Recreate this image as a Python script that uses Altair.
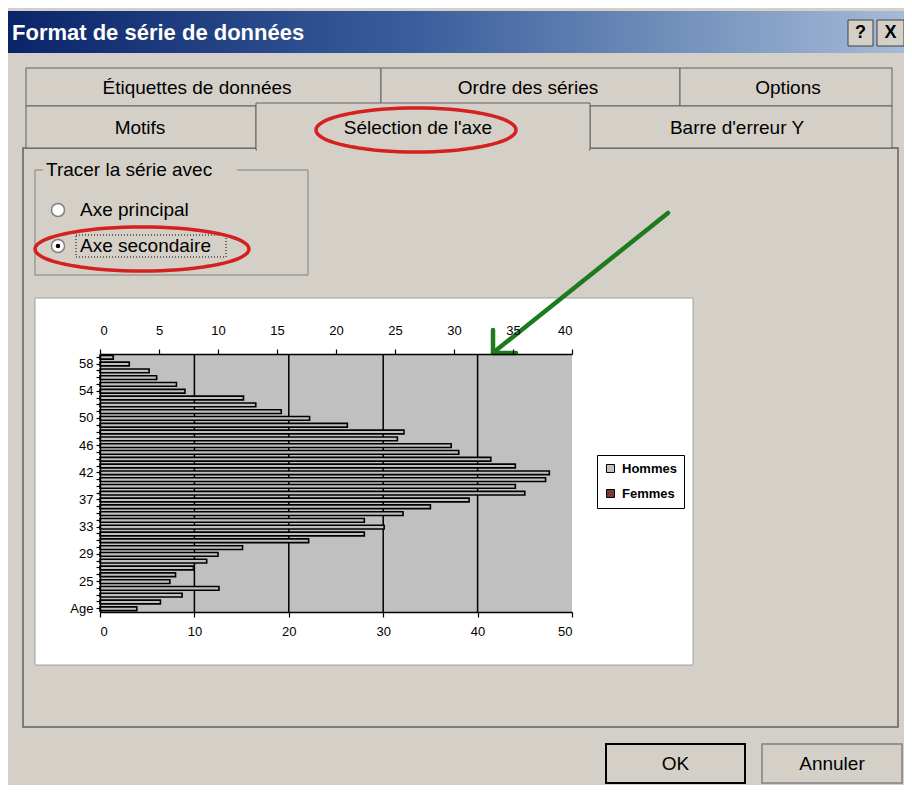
import json
import numpy as np
import pandas as pd
import altair as alt

# ---------------- chart data ----------------
ages = ["Age", "22", "23", "24", "25", "26", "27", "28", "29", "30", "31", "32",
        "33", "34", "35", "36", "37", "38", "40", "41", "42", "43", "44", "45",
        "46", "47", "48", "49", "50", "51", "52", "53", "54", "55", "56", "57",
        "58", "59"]
hommes = [3.9, 6.4, 8.7, 12.6, 7.4, 8.0, 9.9, 11.3, 12.5, 15.1, 22.1, 28.0,
          30.1, 28.0, 32.1, 35.0, 39.1, 45.0, 44.0, 47.2, 47.6, 44.0, 41.4, 38.0,
          37.2, 31.5, 32.2, 26.2, 22.2, 19.2, 16.5, 15.2, 9.0, 8.1, 6.0, 5.2,
          3.1, 1.4]
series = ["Hommes", "Femmes"]
shown_age_labels = ["Age", "25", "29", "33", "37", "42", "46", "50", "54", "58"]
bottom_ticks = [0, 10, 20, 30, 40, 50]
top_ticks = [0, 5, 10, 15, 20, 25, 30, 35, 40]
grid_values = [10, 20, 30, 40]

# ---------------- layout ----------------
FONT = "Liberation Sans"
OX, OY = 100, 354          # page position of the plot area origin
W, H = 472, 258            # plot area size
GRAY = "#D4D0C8"
one = alt.Data(values=[{"k": 0}])


def rect(x1, y1, x2, y2, **kw):
    return alt.Chart(one).mark_rect(**kw).encode(
        x=alt.value(x1 - OX), x2=alt.value(x2 - OX),
        y=alt.value(y1 - OY), y2=alt.value(y2 - OY))


def label(x, y, s, **kw):
    style = dict(font=FONT, fontSize=19, color="black", align="left", baseline="middle")
    style.update(kw)
    return alt.Chart(one).mark_text(text=s, **style).encode(
        x=alt.value(x - OX), y=alt.value(y - OY))


def seg(x1, y1, x2, y2, **kw):
    return alt.Chart(one).mark_rule(**kw).encode(
        x=alt.value(x1 - OX), y=alt.value(y1 - OY),
        x2=alt.value(x2 - OX), y2=alt.value(y2 - OY))


def ellipse(cx, cy, rx, ry, **kw):
    t = np.linspace(0, 2 * np.pi, 73)
    r = ry / rx
    path = "M" + " L".join(f"{np.cos(a):.4f},{r * np.sin(a):.4f}" for a in t) + " Z"
    return alt.Chart(one).mark_point(shape=path, size=(2 * rx) ** 2, filled=False,
                                     opacity=1, **kw).encode(
        x=alt.value(cx - OX), y=alt.value(cy - OY))


def dot(cx, cy, size, **kw):
    return alt.Chart(one).mark_point(shape="circle", size=size, opacity=1, **kw).encode(
        x=alt.value(cx - OX), y=alt.value(cy - OY))


title_grad = alt.LinearGradient(
    gradient="linear", x1=0, x2=1, y1=0, y2=0,
    stops=[alt.GradientStop(color="#0A246A", offset=0),
           alt.GradientStop(color="#3A5E9C", offset=0.45),
           alt.GradientStop(color="#A6BCD8", offset=1)])

decor = [
    # title bar
    rect(8, 11, 912, 53, color=title_grad),
    label(12, 33, "Format de série de données", color="white", fontWeight="bold", fontSize=22),
    rect(848, 20, 873, 46, fill=GRAY, stroke="#404040", strokeWidth=1),
    label(860.5, 33, "?", fontWeight="bold", align="center", fontSize=18),
    rect(877, 20, 904, 46, fill=GRAY, stroke="#404040", strokeWidth=1),
    label(890.5, 33, "X", fontWeight="bold", align="center", fontSize=18),
    # tab panel
    rect(23, 148, 898, 727, fill=GRAY, stroke="#606060", strokeWidth=1.5),
    # tabs row 1
    rect(26, 68, 381, 106, fill=GRAY, stroke="#606060", strokeWidth=1),
    rect(381, 68, 680, 106, fill=GRAY, stroke="#606060", strokeWidth=1),
    rect(680, 68, 892, 106, fill=GRAY, stroke="#606060", strokeWidth=1),
    label(197, 88, "Étiquettes de données", align="center"),
    label(528, 88, "Ordre des séries", align="center"),
    label(788, 88, "Options", align="center"),
    # tabs row 2
    rect(26, 106, 256, 148, fill=GRAY, stroke="#606060", strokeWidth=1),
    rect(590, 106, 892, 148, fill=GRAY, stroke="#606060", strokeWidth=1),
    rect(256, 103, 590, 150, fill=GRAY, stroke="#606060", strokeWidth=1),
    rect(257, 146, 589, 151, fill=GRAY),
    label(140, 128, "Motifs", align="center"),
    label(418, 128, "Sélection de l'axe", align="center"),
    label(737, 128, "Barre d'erreur Y", align="center"),
    # group box
    rect(35, 170, 308, 275, fill=GRAY, stroke="#808080", strokeWidth=1),
    rect(43, 160, 237, 180, fill=GRAY),
    label(46, 170, "Tracer la série avec"),
    dot(58, 210, 170, fill="white", stroke="#808080", strokeWidth=1.5, filled=True),
    label(80, 210, "Axe principal"),
    dot(58, 246, 170, fill="white", stroke="#808080", strokeWidth=1.5, filled=True),
    dot(58, 246, 20, fill="black", filled=True),
    rect(76, 235, 226, 257, fill=GRAY, stroke="black", strokeWidth=1, strokeDash=[1, 2]),
    label(80, 246, "Axe secondaire"),
    # buttons
    rect(606, 744, 745, 783, fill=GRAY, stroke="black", strokeWidth=2),
    label(675.5, 764, "OK", align="center"),
    rect(762, 744, 902, 783, fill=GRAY, stroke="#808080", strokeWidth=1.5),
    label(832, 764, "Annuler", align="center"),
    # chart area (white) and plot area (gray)
    rect(35, 298, 693, 665, fill="white", stroke="#A0A0A0", strokeWidth=1),
    rect(OX, OY, OX + W, OY + H, fill="#C0C0C0"),
]

# ---------------- data marks ----------------
df = pd.DataFrame({"age": ages, "hommes": hommes, "serie": series[0]})
ages_top_down = ages[::-1]
label_expr = ("indexof(" + json.dumps(shown_age_labels) +
              ", datum.value) >= 0 ? datum.value : ''")

axis_style = dict(labelFont=FONT, labelFontSize=13, labelColor="black",
                  domainColor="black", tickColor="black", domainWidth=1.5,
                  tickWidth=1.2, grid=False, title=None, zindex=1)

grid = alt.Chart(pd.DataFrame({"g": grid_values})).mark_rule(
    color="black", strokeWidth=1.5).encode(
    x=alt.X("g:Q", scale=alt.Scale(domain=[0, 50], nice=False, zero=True), axis=None))

bars = alt.Chart(df).mark_bar(stroke="black", strokeWidth=1.6).encode(
    y=alt.Y("age:N", sort=ages_top_down,
            scale=alt.Scale(domain=ages_top_down, paddingInner=0.45, paddingOuter=0.2),
            axis=alt.Axis(orient="left", labelExpr=label_expr, labelOverlap=False,
                          tickSize=4, labelPadding=3, **axis_style)),
    x=alt.X("hommes:Q", scale=alt.Scale(domain=[0, 50], nice=False, zero=True),
            axis=alt.Axis(orient="bottom", values=bottom_ticks, tickSize=5,
                          labelPadding=8, **axis_style)),
    color=alt.Color("serie:N",
                    scale=alt.Scale(domain=series, range=["#C0C0C0", "#7B3A3A"]),
                    legend=alt.Legend(orient="none", legendX=497, legendY=101,
                                      title=None, fillColor="white", strokeColor="black",
                                      padding=7, labelFont=FONT, labelFontSize=13,
                                      labelFontWeight="bold", labelColor="black",
                                      symbolType="square", symbolSize=64,
                                      symbolStrokeColor="black", symbolStrokeWidth=1,
                                      rowPadding=11, labelOffset=5, zindex=1)),
)

top_axis = alt.Chart(pd.DataFrame({"v": top_ticks})).mark_tick(opacity=0).encode(
    x=alt.X("v:Q", scale=alt.Scale(domain=[0, 40], nice=False, zero=True),
            axis=alt.Axis(orient="top", values=top_ticks, tickSize=5,
                          labelPadding=12, **axis_style)))

overlay = [
    ellipse(416, 130, 100, 22, stroke="#D42020", strokeWidth=3.5),
    ellipse(142, 249, 107, 22, stroke="#D42020", strokeWidth=3.5),
    seg(668, 213, 494, 352, color="#1E7A1E", strokeWidth=4.5, strokeCap="round"),
    seg(493, 353, 493, 330, color="#1E7A1E", strokeWidth=4.5, strokeCap="round"),
    seg(493, 353, 516, 353, color="#1E7A1E", strokeWidth=4.5, strokeCap="round"),
]

chart = alt.layer(*decor, grid, bars, top_axis, *overlay).resolve_scale(
    x="independent"
).properties(
    width=W, height=H,
    autosize=alt.AutoSizeParams(type="none"),
    padding={"left": OX - 8, "top": OY - 8, "right": 896 - (OX - 8) - W,
             "bottom": 777 - (OY - 8) - H},
).configure(background=GRAY).configure_view(stroke=None)

chart.save("out.html", embed_options={"renderer": "svg", "actions": False})
